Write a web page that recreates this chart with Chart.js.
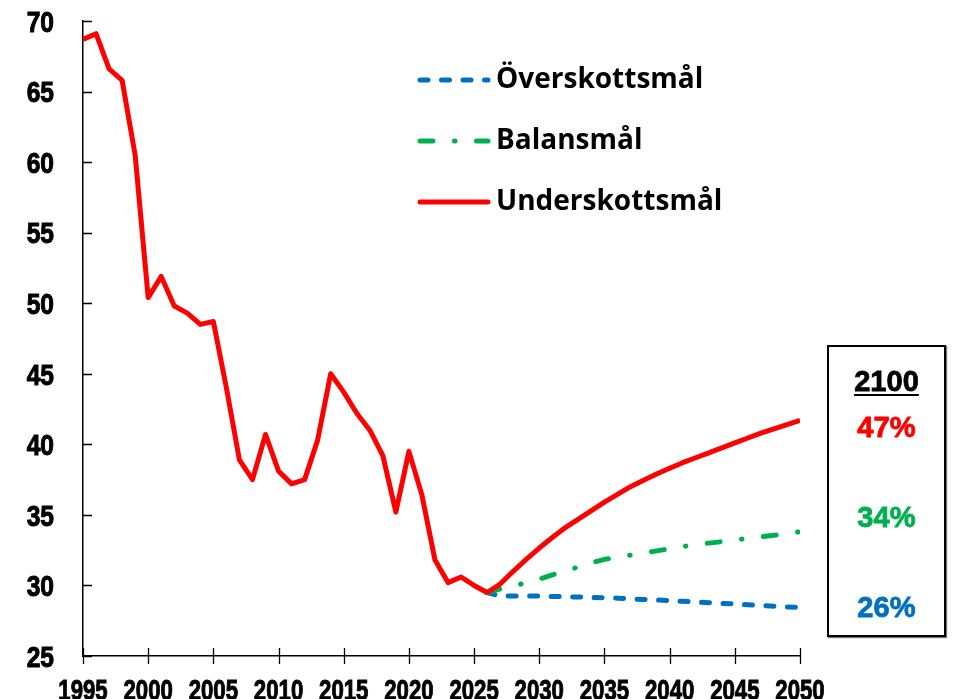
<!DOCTYPE html>
<html>
<head>
<meta charset="utf-8">
<style>
  body {
    margin: 0;
    background: #ffffff;
  }
  .wrap {
    position: relative;
    width: 956px;
    height: 699px;
  }
  .box2100 {
    position: absolute;
    left: 827px;
    top: 345px;
    width: 119px;
    height: 292px;
    box-sizing: border-box;
    border: 2px solid #000;
    box-shadow: 1px 1px 1px #777;
    font-family: "Liberation Sans", Arial, sans-serif;
    font-weight: 700;
    font-size: 30px;
    text-align: center;
  }
  .box2100 p {
    position: absolute;
    left: 0;
    width: 100%;
    margin: 0;
    line-height: 1;
    transform: scaleX(0.97);
    -webkit-text-stroke: 0.8px currentColor;
  }
  .yr { top: 19px; color: #000; text-decoration: underline; text-decoration-thickness: 2px; text-underline-offset: 3px; }
  .red { top: 65px; color: #ff0000; }
  .green { top: 155px; color: #00b050; }
  .blue { top: 245px; color: #0070c0; }
</style>
</head>
<body>
  <div class="wrap">
    <canvas id="targetChart"></canvas>
    <div class="box2100">
      <p class="yr">2100</p>
      <p class="red">47%</p>
      <p class="green">34%</p>
      <p class="blue">26%</p>
    </div>
  </div>
  <script src="https://cdn.jsdelivr.net/npm/chart.js"></script>
  <script>
    const years = [
      1995, 1996, 1997, 1998, 1999, 2000, 2001, 2002, 2003, 2004,
      2005, 2006, 2007, 2008, 2009, 2010, 2011, 2012, 2013, 2014,
      2015, 2016, 2017, 2018, 2019, 2020, 2021, 2022, 2023, 2024,
      2025, 2026, 2027, 2028, 2029, 2030, 2031, 2032, 2033, 2034,
      2035, 2036, 2037, 2038, 2039, 2040, 2041, 2042, 2043, 2044,
      2045, 2046, 2047, 2048, 2049, 2050
    ];
    const underskott = [
      68.7, 69.1, 66.6, 65.8, 60.5, 50.4, 51.9, 49.8, 49.3, 48.5,
      48.7, 44.0, 38.9, 37.5, 40.7, 38.1, 37.2, 37.5, 40.3, 45.0,
      43.7, 42.2, 41.0, 39.2, 35.2, 39.5, 36.4, 31.8, 30.2, 30.6,
      30.0, 29.5, 30.1, 31.0, 31.85, 32.65, 33.4, 34.1, 34.7, 35.3,
      35.9, 36.45, 37.0, 37.45, 37.9, 38.3, 38.7, 39.05, 39.4, 39.75,
      40.1, 40.45, 40.8, 41.1, 41.4, 41.7
    ];
    const balans = [
      null, null, null, null, null, null, null, null, null, null,
      null, null, null, null, null, null, null, null, null, null,
      null, null, null, null, null, null, null, null, null, null,
      null, 29.5, 29.75, 29.95, 30.2, 30.45, 30.75, 31.05, 31.3, 31.6,
      31.85, 32.0, 32.15, 32.3, 32.45, 32.6, 32.75, 32.9, 33.0, 33.1,
      33.2, 33.35, 33.45, 33.55, 33.7, 33.8
    ];
    const overskott = [
      null, null, null, null, null, null, null, null, null, null,
      null, null, null, null, null, null, null, null, null, null,
      null, null, null, null, null, null, null, null, null, null,
      null, 29.5, 29.25, 29.25, 29.25, 29.25, 29.22, 29.2, 29.18, 29.15,
      29.12, 29.1, 29.05, 29.0, 28.97, 28.92, 28.88, 28.83, 28.78, 28.73,
      28.68, 28.63, 28.58, 28.53, 28.48, 28.43
    ];
    const seriesNames = ["Överskottsmål", "Balansmål", "Underskottsmål"];

    const axisFont = "bold 30px 'Liberation Sans', Arial, sans-serif";
    const toPoints = (vals) => years.map((yr, i) => ({ x: yr, y: vals[i] }));

    // tick marks: x ticks cross the axis, y ticks point inward
    const tickMarks = {
      id: "tickMarks",
      afterDraw(chart) {
        const { ctx, chartArea, scales } = chart;
        ctx.save();
        ctx.strokeStyle = "#000";
        ctx.lineWidth = 1.3;
        ctx.beginPath();
        scales.x.ticks.forEach((t) => {
          const px = Math.round(scales.x.getPixelForValue(t.value)) + 0.5;
          ctx.moveTo(px, chartArea.bottom - 8);
          ctx.lineTo(px, chartArea.bottom + 8);
        });
        scales.y.ticks.forEach((t) => {
          const py = Math.round(scales.y.getPixelForValue(t.value)) + 0.5;
          ctx.moveTo(chartArea.left, py);
          ctx.lineTo(chartArea.left + 9, py);
        });
        ctx.stroke();
        ctx.restore();
      },
    };

    // narrow heavy tick labels (no condensed font installed, so squeeze horizontally)
    const narrowLabels = {
      id: "narrowLabels",
      afterDraw(chart) {
        const { ctx, chartArea, scales } = chart;
        const drawLabel = (text, x, y, sx) => {
          ctx.save();
          ctx.translate(x, y);
          ctx.scale(sx, 1);
          ctx.fillText(text, 0, 0);
          ctx.strokeText(text, 0, 0);
          ctx.restore();
        };
        ctx.save();
        ctx.font = axisFont;
        ctx.fillStyle = "#000";
        ctx.strokeStyle = "#000";
        ctx.lineWidth = 1;
        ctx.textBaseline = "alphabetic";
        ctx.textAlign = "center";
        scales.x.ticks.forEach((t) => {
          const px = scales.x.getPixelForValue(t.value);
          drawLabel(String(t.value), px, chartArea.bottom + 44, 0.74);
        });
        ctx.textAlign = "right";
        scales.y.ticks.forEach((t) => {
          const py = scales.y.getPixelForValue(t.value);
          drawLabel(String(t.value), chartArea.left - 29, py + 10.8, 0.82);
        });
        ctx.restore();
      },
    };

    // legend drawn inside plot, listed top to bottom
    const innerLegend = {
      id: "innerLegend",
      afterDraw(chart) {
        const { ctx } = chart;
        const order = [2, 1, 0];
        ctx.save();
        order.forEach((dsIndex, row) => {
          const ds = chart.data.datasets[dsIndex];
          const y = 80 + row * 61;
          ctx.strokeStyle = ds.borderColor;
          ctx.lineWidth = 5;
          ctx.lineCap = "round";
          ctx.setLineDash(ds.borderDash || []);
          ctx.beginPath();
          ctx.moveTo(420, y);
          ctx.lineTo(488, y);
          ctx.stroke();
          ctx.setLineDash([]);
          ctx.fillStyle = "#000";
          ctx.font = "bold 28px 'Open Sans', sans-serif";
          ctx.textBaseline = "middle";
          ctx.fillText(ds.label, 496, y);
        });
        ctx.restore();
      },
    };

    const ctx = document.getElementById("targetChart").getContext("2d");
    new Chart(ctx, {
      type: "line",
      data: {
        datasets: [
          {
            label: seriesNames[2],
            data: toPoints(underskott),
            borderColor: "#ff0000",
            borderWidth: 5,
            pointRadius: 0,
            borderJoinStyle: "round",
          },
          {
            label: seriesNames[1],
            data: toPoints(balans),
            borderColor: "#00b050",
            borderWidth: 5,
            borderDash: [13, 21.5, 0.5, 21.5],
            borderCapStyle: "round",
            pointRadius: 0,
          },
          {
            label: seriesNames[0],
            data: toPoints(overskott),
            borderColor: "#0070c0",
            borderWidth: 5,
            borderDash: [8, 13.5],
            borderCapStyle: "round",
            pointRadius: 0,
          },
        ],
      },
      options: {
        responsive: true,
        maintainAspectRatio: false,
        animation: false,
        layout: {
          padding: { left: 0, top: 21, right: 156, bottom: 0 },
        },
        plugins: {
          legend: { display: false },
          tooltip: { enabled: false },
        },
        scales: {
          x: {
            type: "linear",
            min: 1995,
            max: 2050,
            afterFit: (scale) => {
              scale.height = 43;
              scale.paddingLeft = 0;
              scale.paddingRight = 0;
            },
            grid: { display: false, drawTicks: false },
            border: { color: "#000", width: 1.5 },
            ticks: { display: false, stepSize: 5, autoSkip: false },
          },
          y: {
            min: 25,
            max: 70,
            afterFit: (scale) => {
              scale.width = 83;
              scale.paddingTop = 0;
              scale.paddingBottom = 0;
            },
            grid: { display: false, drawTicks: false },
            border: { color: "#000", width: 1.5 },
            ticks: { display: false, stepSize: 5 },
          },
        },
      },
      plugins: [tickMarks, narrowLabels, innerLegend],
    });
  </script>
</body>
</html>
